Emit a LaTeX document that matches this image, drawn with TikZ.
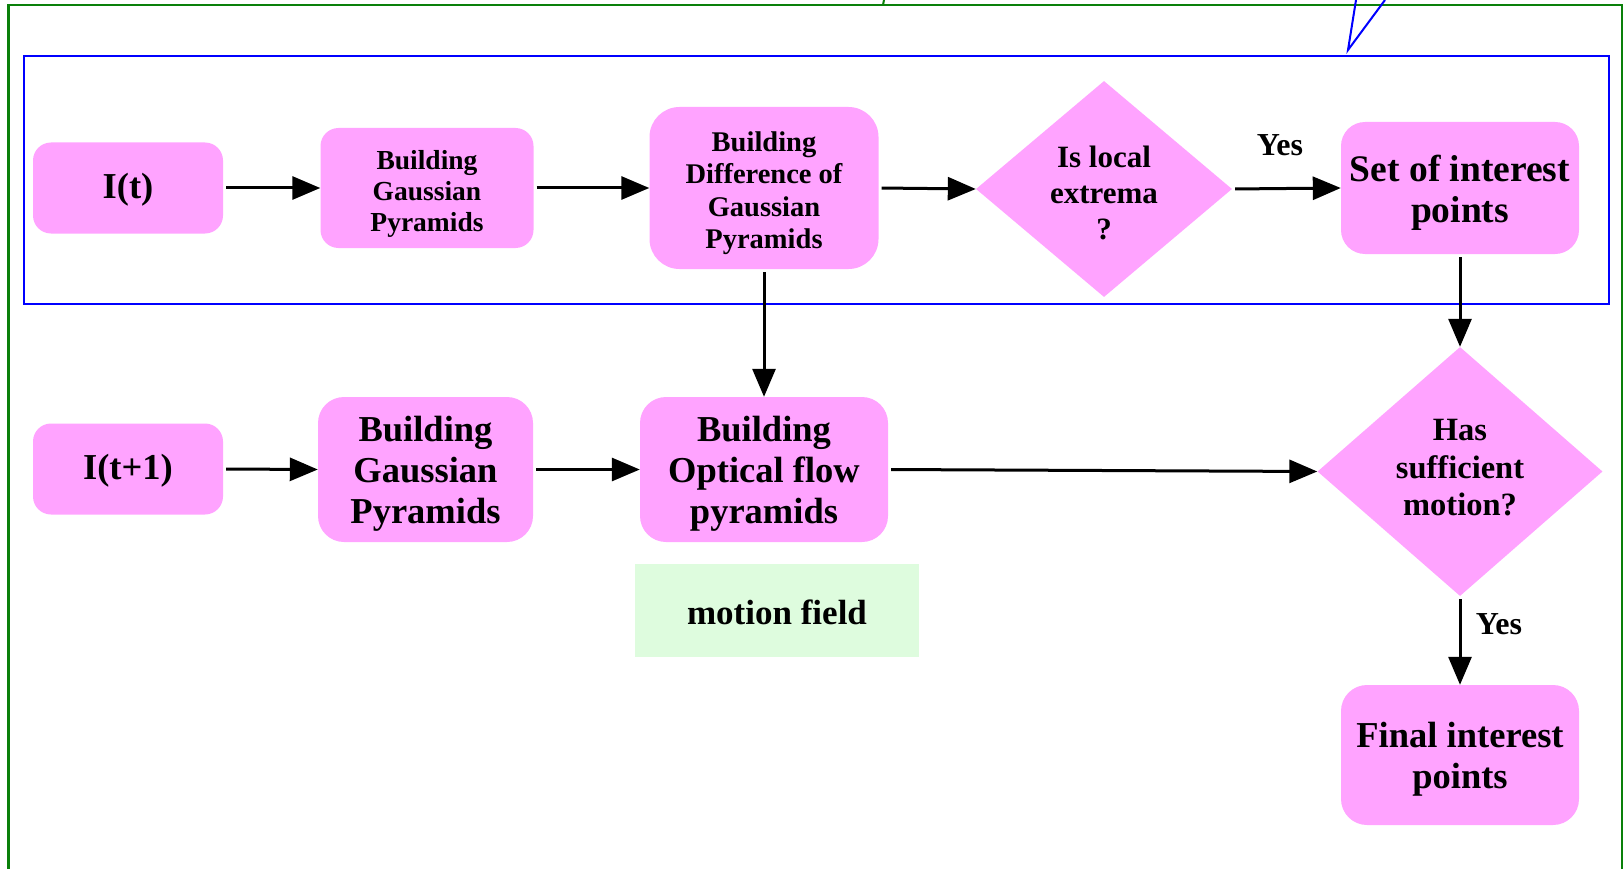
\documentclass[tikz,border=0pt]{standalone}
\usepackage{fontspec}
\setmainfont{Liberation Serif}
\usetikzlibrary{shapes.geometric,arrows.meta}
\definecolor{boxpink}{HTML}{FFA3FF}
\definecolor{mfgreen}{HTML}{DEFCDE}
\definecolor{framegreen}{HTML}{0A800A}
\definecolor{frameblue}{HTML}{0000FF}
\tikzset{
  rbox/.style={draw=none, fill=boxpink, rounded corners=18pt, inner sep=0pt},
  tdown/.style={execute at begin node={\rule{0pt}{#1}}},
  tup/.style={execute at end node={\rule[-#1]{0pt}{0pt}}},
  tbig/.style={font=\fontsize{36.5}{41}\selectfont\bfseries, align=center, inner sep=0pt},
  tsmall/.style={font=\fontsize{27.5}{31}\selectfont\bfseries, align=center, inner sep=0pt},
  tdog/.style={font=\fontsize{28.5}{32.4}\selectfont\bfseries, align=center, inner sep=0pt},
  tisle/.style={font=\fontsize{31}{35.6}\selectfont\bfseries, align=center, inner sep=0pt},
  dec/.style={diamond, draw=none, fill=boxpink, align=center, inner sep=0pt},
  flow/.style={line width=3pt, -{Triangle[length=28pt,width=23pt]}, shorten <=3pt},
  lbl/.style={font=\fontsize{32}{36}\selectfont\bfseries, inner sep=0pt},
}
\begin{document}
\begin{tikzpicture}[x=1pt,y=-1pt]
\useasboundingbox (0,0) rectangle (1624,869);
\fill[white] (0,0) rectangle (1624,869);
% frames
\draw[framegreen, line width=2.5pt] (8.5,869) -- (8.5,5) -- (1622,5) -- (1622,869);
\draw[framegreen, line width=2pt] (884,0) -- (883,5);
\draw[frameblue, line width=2pt] (24,56) rectangle (1609,304);
\draw[frameblue, line width=2pt, line join=miter] (1356,0) -- (1348,50) -- (1385,0);
% nodes
\node[rbox, minimum width=190pt, minimum height=91pt,
  label={[tbig, yshift=-2pt]center:{I(t)}}] (It) at (128,188) {};
\node[rbox, minimum width=213pt, minimum height=120pt,
  label={[tsmall, yshift=-6pt]center:{Building\\Gaussian\\Pyramids}}] (bgpa) at (427,188) {};
\node[rbox, rounded corners=30pt, minimum width=229pt, minimum height=162pt,
  label={[tdog, yshift=-5pt]center:{Building\\Difference of\\Gaussian\\Pyramids}}] (dog) at (764,188) {};
\node[dec, minimum width=256pt, minimum height=216pt, shape aspect=1.19,
  label={[tisle, yshift=-4pt]center:{Is local\\extrema\\?}}] (isle) at (1104,189) {};
\node[rbox, rounded corners=24pt, minimum width=238pt, minimum height=132pt,
  label={[tbig, font=\fontsize{37.5}{41}\selectfont\bfseries, yshift=-4.5pt]center:{Set of interest\\points}}] (soip) at (1460,188) {};
\node[rbox, minimum width=190pt, minimum height=91pt,
  label={[tbig, yshift=-1.5pt]center:{I(t+1)}}] (It1) at (128,469) {};
\node[rbox, rounded corners=26pt, minimum width=215pt, minimum height=145pt,
  label={[tbig, yshift=-4pt]center:{Building\\Gaussian\\Pyramids}}] (bgpb) at (425.5,469.5) {};
\node[rbox, rounded corners=26pt, minimum width=248pt, minimum height=145pt,
  label={[tbig, yshift=-4pt]center:{Building\\Optical flow\\pyramids}}] (ofp) at (764,469.5) {};
\node[fill=mfgreen, draw=none, tdown=0.8em, font=\fontsize{35}{40}\selectfont\bfseries, minimum width=284pt, minimum height=93pt, inner sep=0pt] (mf) at (777,610.5) {motion field};
\node[dec, tup=0.25em, font=\fontsize{32.5}{37.3}\selectfont\bfseries, minimum width=285pt, minimum height=249pt, shape aspect=1.14] (hsm) at (1460,471.5) {Has\\sufficient\\motion?};
\node[rbox, rounded corners=26pt, minimum width=238pt, minimum height=140pt,
  label={[tbig, yshift=-4pt]center:{Final interest\\points}}] (fip) at (1460,755) {};
% labels
\node[lbl] (yes1) at (1280,145) {Yes};
\node[lbl] (yes2) at (1499,624) {Yes};
% connectors
\draw[flow] (It.east) -- (bgpa.west);
\draw[flow] (bgpa.east) -- (dog.west);
\draw[flow] (dog.east) -- (isle.west);
\draw[flow] (isle.east) -- (soip.west);
\draw[flow] (soip.south) -- (hsm.north);
\draw[flow] (dog.south) -- (ofp.north);
\draw[flow] (It1.east) -- (bgpb.west);
\draw[flow] (bgpb.east) -- (ofp.west);
\draw[flow] (ofp.east) -- (hsm.west);
\draw[flow] (hsm.south) -- (fip.north);
\end{tikzpicture}
\end{document}
